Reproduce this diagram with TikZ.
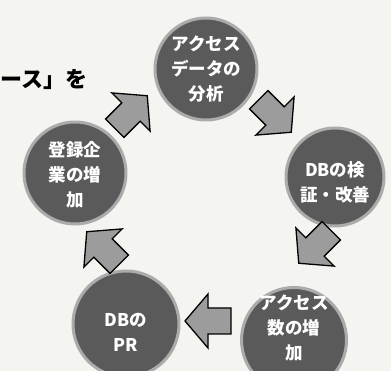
\documentclass[tikz,border=0pt]{standalone}
\usepackage{fontspec}
\newfontfamily\jp{Noto Sans CJK JP}

\definecolor{paper}{HTML}{F4F4F1}
\definecolor{disc}{HTML}{5A5A5A}
\definecolor{rim}{HTML}{ABABAB}
\definecolor{blockfill}{HTML}{9C9C9C}

\tikzset{
  stage/.style={circle, fill=disc, draw=rim, line width=3pt, minimum size=#1, inner sep=0pt},
  stagetext/.style={text=white, font=\jp\bfseries\fontsize{17.5}{25}\selectfont, align=center, inner sep=0pt},
  blockarrow/.pic={\draw[fill=blockfill, line width=1.3pt, line join=miter]
    (-23,-13) -- (0,-13) -- (0,-27) -- (23,0) -- (0,27) -- (0,13) -- (-23,13) -- cycle;}
}

\begin{document}
\begin{tikzpicture}[x=1pt,y=-1pt]
    \fill[paper] (0,0) rectangle (391,371);
    \useasboundingbox (0,0) rectangle (391,371);

    \node[font=\jp\bfseries\fontsize{22}{22}\selectfont, anchor=east, inner sep=0pt] (heading) at (88,80) {ース」を};

    % the five stages
    \node[stage=102pt] (analysis) at (206,69) {};
    \node[stage=98pt] (review) at (335,177) {};
    \node[stage=105pt] (access) at (294,340) {};
    \node[stage=106pt] (pr) at (126,324) {};
    \node[stage=102pt] (members) at (75,173) {};

    \node[stagetext] (analysis-t) at (analysis.center) {アクセス\\データの\\分析};
    \node[stagetext] (review-t) at ([yshift=-5pt]review.center) {DBの検\\証・改善};
    \node[stagetext] (access-t) at ([yshift=12pt]access.center) {アクセス\\数の増\\加};
    \node[stagetext] (pr-t) at ([yshift=-8pt]pr.center) {DBの\\PR};
    \node[stagetext] (members-t) at ([yshift=-2pt]members.center) {登録企\\業の増\\加};

    % arrows between stages
    \pic[rotate=45] at (131,112) {blockarrow};
    \pic[rotate=-45] at (275,116) {blockarrow};
    \pic[rotate=-135] at (315,247) {blockarrow};
    \pic[rotate=180] at (208,321) {blockarrow};
    \pic[rotate=135] at (103,248) {blockarrow};
\end{tikzpicture}
\end{document}
